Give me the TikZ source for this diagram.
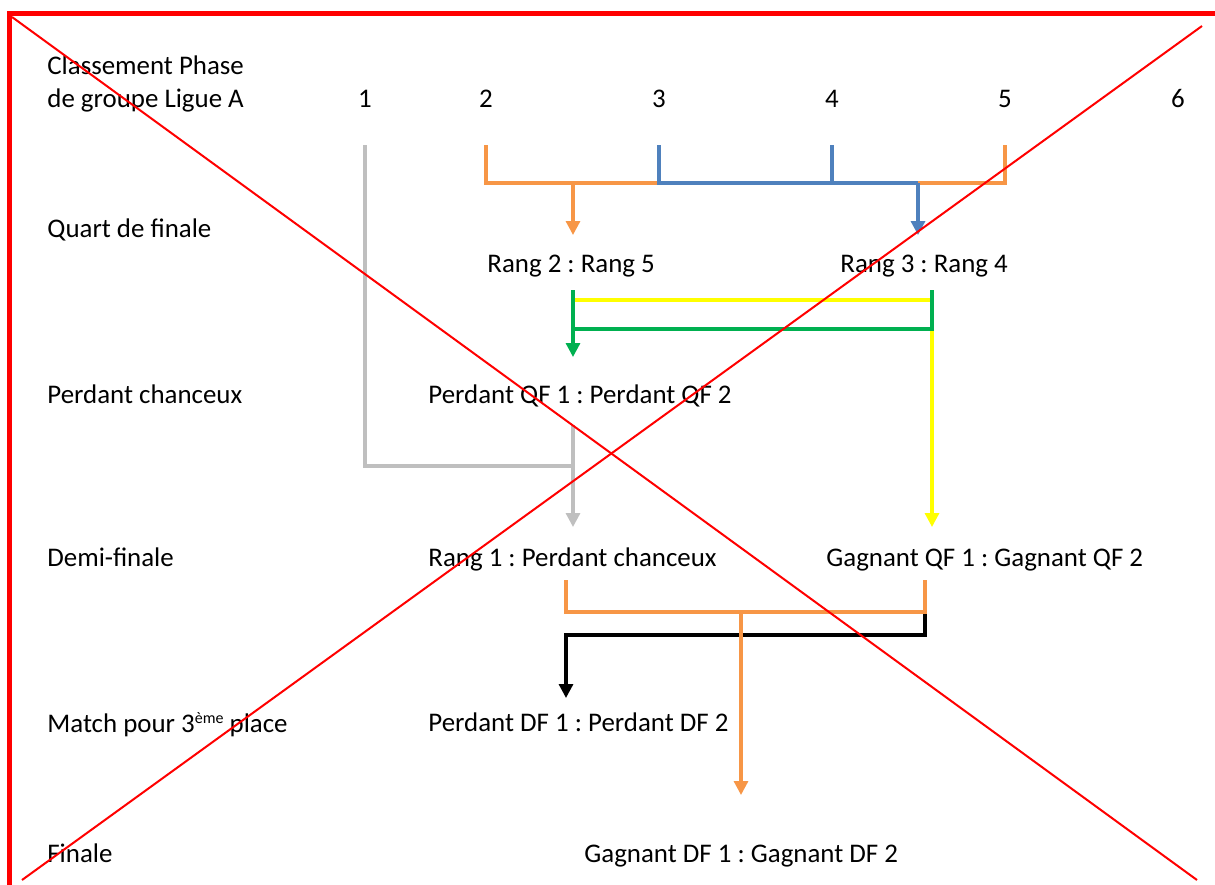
\documentclass[tikz,border=0pt]{standalone}
\usepackage{fontspec}
\setmainfont{Carlito}
\usetikzlibrary{arrows.meta, positioning, calc}

\definecolor{brOrange}{RGB}{247,150,70}
\definecolor{brBlue}{RGB}{79,129,189}
\definecolor{brGreen}{RGB}{0,176,80}
\definecolor{brYellow}{RGB}{255,255,0}
\definecolor{brGray}{RGB}{191,191,191}

\tikzset{
    lbl/.style={anchor=base west, inner sep=0pt, font=\fontsize{13.45}{16.5}\selectfont\frenchspacing},
    numlbl/.style={anchor=base, inner sep=0pt, font=\fontsize{13.45}{16.5}\selectfont},
    link/.style={line width=1.6pt},
    brarrow/.style={-{Triangle[width=7pt,length=7pt]}},
}

\begin{document}
\begin{tikzpicture}[x=0.5pt, y=-0.5pt]
    \useasboundingbox (0,0) rectangle (1215,884);

    % Row labels
    \node[lbl] (grpA) at (47,74) {Classement Phase};
    \node[lbl] (grpB) at (47,107) {de groupe Ligue A};
    \node[lbl] (qf) at (47,237) {Quart de finale};
    \node[lbl] (pc) at (47,403) {Perdant chanceux};
    \node[lbl] (df) at (47,566) {Demi-finale};
    \node[lbl] (mt) at (47,732) {Match pour 3{\fontsize{8}{8}\selectfont\raisebox{4.5pt}{ème}} place};
    \node[lbl] (fin) at (47,862) {Finale};

    % Group ranks
    \foreach \i/\x in {1/365, 2/486, 3/659, 4/832, 5/1005, 6/1178} {
        \node[numlbl] (n\i) at (\x,107) {\i};
    }

    % Matches
    \node[lbl] (m25) at (487,272) {Rang 2 : Rang 5};
    \node[lbl] (m34) at (840,272) {Rang 3 : Rang 4};
    \node[lbl] (pqf) at (428,403) {Perdant QF 1 : Perdant QF 2};
    \node[lbl] (sfa) at (428,566) {Rang 1 : Perdant chanceux};
    \node[lbl] (sfb) at (826,566) {Gagnant QF 1 : Gagnant QF 2};
    \node[lbl] (pdf) at (428,731) {Perdant DF 1 : Perdant DF 2};
    \node[lbl] (gdf) at (584,862) {Gagnant DF 1 : Gagnant DF 2};

    % Rows and columns of the bracket lines
    \coordinate (drop) at (0,145);
    \coordinate (qfbar) at (0,183);
    \coordinate (qfin) at (0,235);
    \coordinate (qfout) at (0,290);
    \coordinate (ybar) at (0,300);
    \coordinate (gbar) at (0,329);
    \coordinate (pcin) at (0,357);
    \coordinate (pcout) at (0,425);
    \coordinate (pcbar) at (0,466);
    \coordinate (sfin) at (0,527);
    \coordinate (sfout) at (0,580);
    \coordinate (sfbar) at (0,612);
    \coordinate (sfbarB) at (0,635);
    \coordinate (mtin) at (0,698);
    \coordinate (finin) at (0,795);
    \coordinate (cA) at (573,0);
    \coordinate (cB) at (918,0);
    \coordinate (cC) at (932,0);
    \coordinate (cD) at (566,0);
    \coordinate (cE) at (925,0);
    \coordinate (cF) at (741,0);

    % Quarter-finals
    \draw[link, brOrange] (n2 |- drop) -- (n2 |- qfbar) -- (n3 |- qfbar);
    \draw[link, brOrange] (n5 |- drop) -- (n5 |- qfbar) -- (cB |- qfbar);
    \draw[link, brBlue] (n3 |- drop) -- (n3 |- qfbar) -- (cB |- qfbar);
    \draw[link, brBlue] (n4 |- drop) -- (n4 |- qfbar);
    \draw[link, brOrange, brarrow] (cA |- qfbar) -- (cA |- qfin);
    \draw[link, brBlue, brarrow] (cB |- qfbar) -- (cB |- qfin);

    % Lucky loser and winners
    \draw[link, brYellow] (cA |- ybar) -- (cC |- ybar);
    \draw[link, brYellow, brarrow] (cC |- gbar) -- (cC |- sfin);
    \draw[link, brGreen] (cC |- qfout) -- (cC |- gbar) -- (cA |- gbar);
    \draw[link, brGreen, brarrow] (cA |- qfout) -- (cA |- pcin);

    % Rank 1
    \draw[link, brGray] (n1 |- drop) -- (n1 |- pcbar) -- (cA |- pcbar);
    \draw[link, brGray, brarrow] (cA |- pcout) -- (cA |- sfin);

    % Semi-finals
    \draw[link, black, brarrow] (cE |- sfbar) -- (cE |- sfbarB) -- (cD |- sfbarB) -- (cD |- mtin);
    \draw[link, brOrange] (cD |- sfout) -- (cD |- sfbar) -- (cE |- sfbar) -- (cE |- sfout);
    \draw[link, brOrange, brarrow] (cF |- sfbar) -- (cF |- finin);

    % Cross and frame
    \draw[red, line width=1pt] (12,17) -- (1197,880);
    \draw[red, line width=1pt] (1202,26) -- (22,880);
    \draw[red, line width=2.5pt] (9,890) -- (9,13.5) -- (1220,13.5);
\end{tikzpicture}
\end{document}
